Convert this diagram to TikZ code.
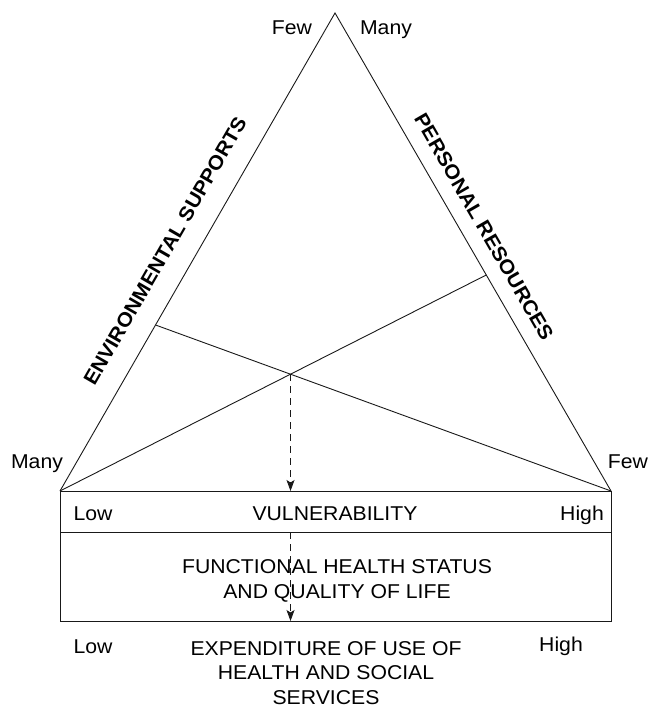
\documentclass[tikz,border=0pt]{standalone}
\usepackage{fontspec}
\setmainfont{Liberation Sans}[FakeStretch=1.06]
\usetikzlibrary{arrows.meta,calc}
\begin{document}
\begin{tikzpicture}[x=1pt,y=-1pt,
  lbl/.style={font=\fontsize{20}{24.5}\selectfont, inner sep=0pt, align=center, anchor=base},
  sidelbl/.style={font=\fontsize{20}{24}\selectfont\bfseries, inner sep=0pt},
  edge/.style={line width=0.9pt, draw=black!90},
  flow/.style={line width=0.9pt, draw=black!90, dash pattern=on 7pt off 5pt,
    -{Stealth[length=11pt,width=8pt,inset=2.5pt]}}]
\useasboundingbox (0,0) rectangle (648,708);
% triangle
\coordinate (A) at (335,13);
\coordinate (L) at (60,491);
\coordinate (R) at (611,491);
\coordinate (P1) at ($(L)!0.3473!(A)$);
\coordinate (P2) at ($(R)!0.4519!(A)$);
\draw[edge, line join=miter] (L) -- (A) -- (R);
\draw[edge] (P1) -- (R);
\draw[edge] (P2) -- (L);
\coordinate (X) at (intersection of P1--R and P2--L);
% box
\coordinate (BR) at (611,621);
\coordinate (SL) at (60,532);
\coordinate (SR) at (611,532);
\draw[edge] (L) rectangle (BR);
\draw[edge] (SL) -- (SR);
% arrows
\draw[flow] (X) -- (X |- L);
\draw[flow] (X |- SL) -- (X |- BR);
% side labels
\node[sidelbl, rotate=60] (env) at (165,251) {ENVIRONMENTAL SUPPORTS};
\node[sidelbl, rotate=-60] (pers) at (484,227) {PERSONAL RESOURCES};
% corner labels
\node[lbl] (fewtop) at (292,35) {Few};
\node[lbl] (manytop) at (386,35) {Many};
\node[lbl] (manyleft) at (37,468) {Many};
\node[lbl] (fewright) at (628,468) {Few};
% box labels
\node[lbl] (lowv) at (93,520) {Low};
\node[lbl] (vuln) at (335,520) {VULNERABILITY};
\node[lbl] (highv) at (582,520) {High};
\node[lbl] (func) at (337,598) {FUNCTIONAL HEALTH STATUS\\AND QUALITY OF LIFE};
% bottom labels
\node[lbl] (lowe) at (93,653) {Low};
\node[lbl] (highe) at (561,651) {High};
\node[lbl] (expend) at (326,704) {EXPENDITURE OF USE OF\\HEALTH AND SOCIAL\\SERVICES};
\end{tikzpicture}
\end{document}
